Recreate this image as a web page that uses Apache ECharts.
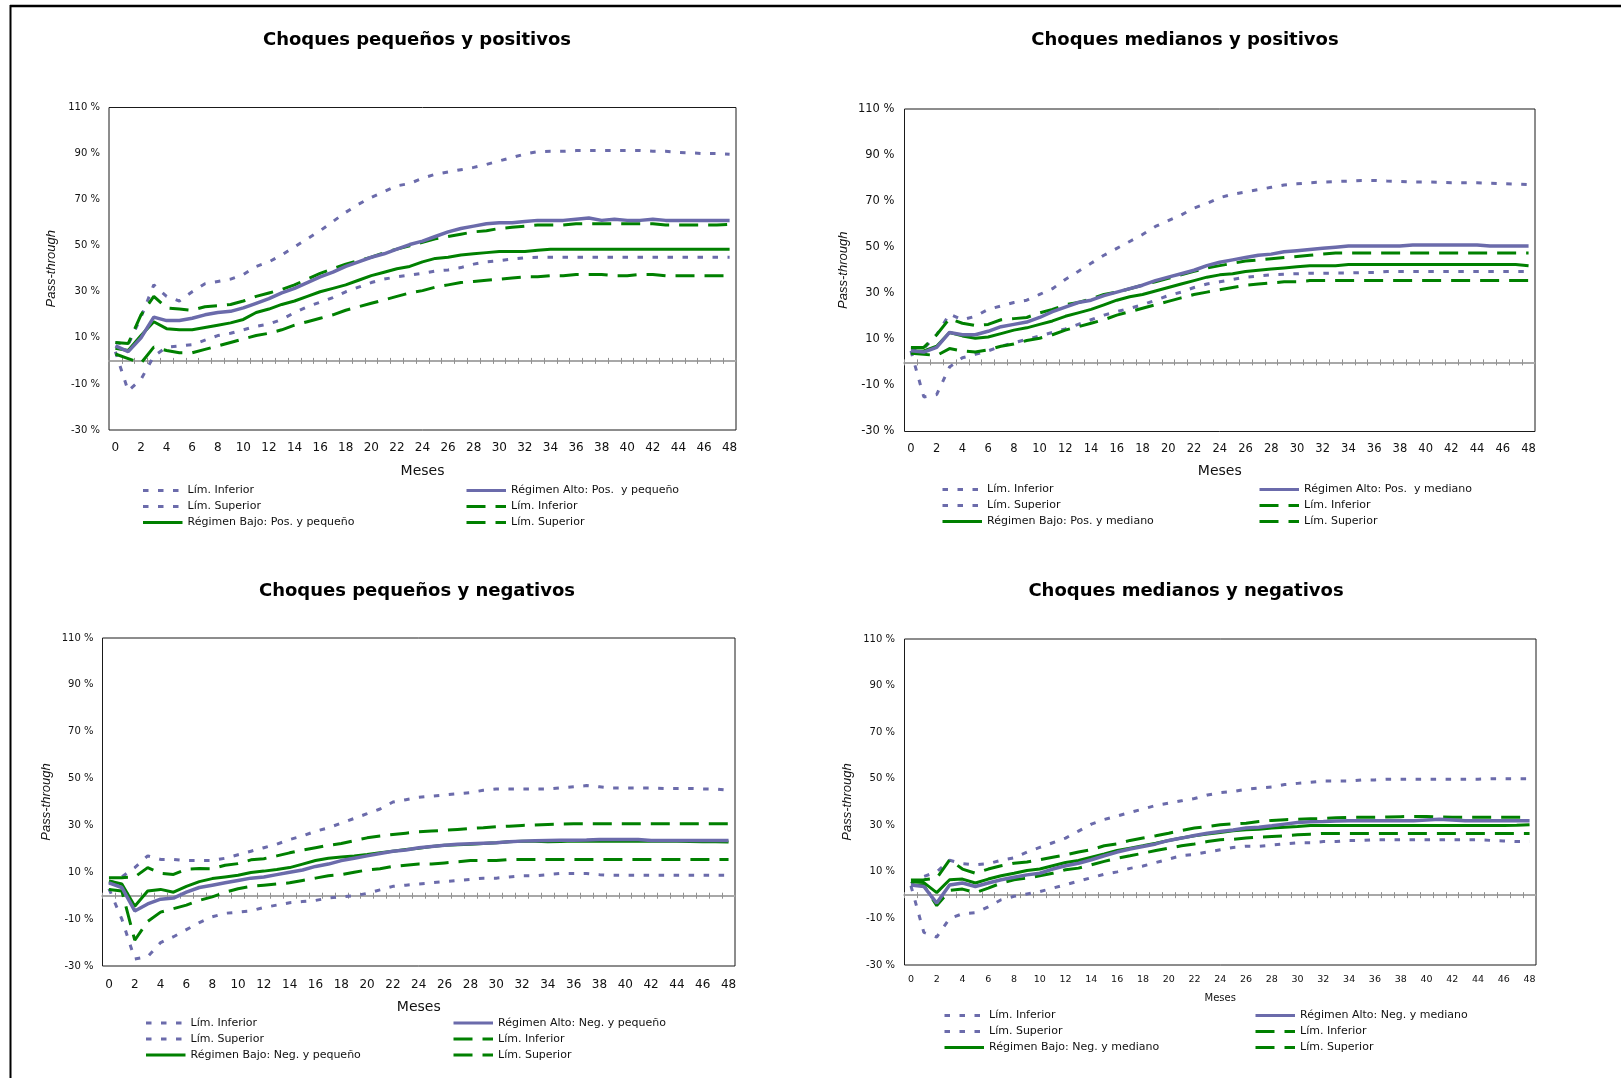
<!DOCTYPE html>
<html>
<head>
<meta charset="utf-8">
<script src="https://cdn.jsdelivr.net/npm/echarts@6/dist/echarts.min.js"></script>
<style>
  html, body { margin: 0; padding: 0; background: #fff; }
  #c { width: 1621px; height: 1078px; }
</style>
</head>
<body>
<div id="c"></div>
<script>
// Horizonte en meses (categorías del eje X)
const meses = ['0','1','2','3','4','5','6','7','8','9','10','11','12','13','14','15','16',
  '17','18','19','20','21','22','23','24','25','26','27','28','29','30','31','32','33',
  '34','35','36','37','38','39','40','41','42','43','44','45','46','47','48'];
// Marcas del eje Y (en %)
const ejeY = [-30, -10, 10, 30, 50, 70, 90, 110];

// ---- Choques pequeños y positivos ----
const altoPP = [6.5, 4, 10, 19, 17.5, 17.5, 18.5, 20, 21, 21.5,
  23, 25, 27, 29.5, 31.5, 34, 36.5, 38.5, 41, 43,
  45, 46.5, 48.5, 50.5, 52, 54, 56, 57.5, 58.5, 59.5,
  60, 60, 60.5, 61, 61, 61, 61.5, 62, 61, 61.5,
  61, 61, 61.5, 61, 61, 61, 61, 61, 61];
const altoPPinf = [4, -13, -8, 2, 6, 6.5, 7, 9, 11, 12,
  13.5, 15, 16, 18, 21, 23.5, 25.5, 27.5, 30, 32,
  34, 35.5, 36.5, 37.2, 38, 39, 39.5, 40.5, 42, 43,
  43.5, 44.2, 44.8, 45, 45, 45, 45, 45, 45, 45,
  45, 45, 45, 45, 45, 45, 45, 45, 45];
const altoPPsup = [8, 7, 19, 33, 28, 26, 30, 33.5, 34.5, 35.5,
  37.5, 41, 43, 46, 49.5, 53, 56.5, 60.5, 64.5, 68,
  71, 73.5, 76, 77, 79.3, 81, 82, 83, 84, 85.3,
  86.8, 88.3, 89.8, 90.8, 91, 91, 91.3, 91.3, 91.3, 91.3,
  91.3, 91.3, 91, 91, 90.5, 90.3, 90, 90, 89.7];
const bajoPP = [5.5, 4.5, 11, 17, 14, 13.5, 13.5, 14.5, 15.5, 16.5,
  18, 21, 22.5, 24.5, 26, 28, 30, 31.5, 33, 35,
  37, 38.5, 40, 41, 43, 44.5, 45, 46, 46.5, 47,
  47.5, 47.5, 47.5, 48, 48.5, 48.5, 48.5, 48.5, 48.5, 48.5,
  48.5, 48.5, 48.5, 48.5, 48.5, 48.5, 48.5, 48.5, 48.5];
const bajoPPinf = [3, 1, -1, 6, 4.5, 3.5, 3.5, 5, 6.5, 8,
  9.5, 11, 12, 13.5, 15.5, 17, 18.5, 20, 22, 23.5,
  25, 26.5, 28, 29.5, 30.5, 32, 33, 34, 34.5, 35,
  35.5, 36, 36.5, 36.5, 37, 37, 37.5, 37.5, 37.5, 37,
  37, 37.5, 37.5, 37, 37, 37, 37, 37, 37];
const bajoPPsup = [8, 7.5, 20, 28, 23, 22.5, 22, 23.5, 24, 24.5,
  26, 28, 29.5, 31, 33, 35.5, 38, 40, 42, 43.5,
  45, 47, 48.5, 50, 51.5, 53, 54, 55, 56, 56.5,
  57.5, 58, 58.5, 59, 59, 59, 59.5, 59.5, 59.5, 59.5,
  59.5, 59.5, 59.5, 59, 59, 59, 59, 59, 59.3];

// ---- Choques medianos y positivos ----
const altoPM = [5, 4.5, 6.5, 13, 12, 12, 13.5, 15.5, 16.5, 17.5,
  19.5, 22, 24, 26, 27, 29, 30.5, 32, 33.5, 35.5,
  37, 38.5, 40, 42, 43.5, 44.5, 45.5, 46.5, 47, 48,
  48.5, 49, 49.5, 50, 50.5, 50.5, 50.5, 50.5, 50.5, 51,
  51, 51, 51, 51, 51, 50.5, 50.5, 50.5, 50.5];
const altoPMinf = [5, -15, -14, -2, 2, 3.5, 5, 7, 8.5, 10,
  11.5, 13, 14.5, 16.5, 18.5, 20.5, 22, 23.5, 25, 27,
  29, 30.5, 32.5, 34, 35, 36, 37, 37.5, 38, 38.3,
  38.5, 38.7, 38.7, 38.8, 38.8, 39, 39, 39.5, 39.5, 39.5,
  39.5, 39.5, 39.5, 39.5, 39.5, 39.5, 39.5, 39.5, 39.5];
const altoPMsup = [6, 6, 12, 21, 18.5, 20, 23, 24.5, 26, 27,
  29.5, 32, 36, 39.5, 43, 46.5, 49.5, 52.5, 55.5, 59,
  61.5, 64, 67, 69, 71.5, 73, 74, 75, 76, 77,
  77.5, 78, 78.3, 78.5, 78.7, 79, 79, 78.7, 78.5, 78.3,
  78.3, 78.2, 78, 78, 78, 77.8, 77.6, 77.4, 77.2];
const bajoPM = [5, 5, 7, 13, 11.5, 10.5, 11, 12.5, 14, 15,
  16.5, 18, 20, 21.5, 23, 25, 27, 28.5, 29.5, 31,
  32.5, 34, 35.5, 37, 38, 38.5, 39.5, 40, 40.5, 41,
  41.5, 42, 42, 42, 42.5, 42.5, 42.5, 42.5, 42.5, 42.5,
  42.5, 42.5, 42.5, 42.5, 42.5, 42.5, 42.5, 42.5, 42];
const bajoPMinf = [4, 3.5, 3, 6, 5, 4.5, 5.5, 7, 8, 9.5,
  10.5, 12, 14, 15.5, 17, 18.5, 20.5, 22, 23.5, 25,
  26.5, 28, 29.5, 30.5, 31.5, 32.5, 33.5, 34, 34.5, 35,
  35, 35.5, 35.5, 35.5, 35.5, 35.5, 35.5, 35.5, 35.5, 35.5,
  35.5, 35.5, 35.5, 35.5, 35.5, 35.5, 35.5, 35.5, 35.5];
const bajoPMsup = [6.5, 6.5, 12, 19, 17, 16, 16.5, 18.5, 19, 19.5,
  21.5, 23, 25, 26, 27.5, 29.5, 30.5, 32, 33.5, 35,
  36.5, 38, 39.5, 41, 42, 43, 44, 44.5, 45, 45.5,
  46, 46.5, 47, 47.5, 47.5, 47.5, 47.5, 47.5, 47.5, 47.5,
  47.5, 47.5, 47.5, 47.5, 47.5, 47.5, 47.5, 47.5, 47.5];

// ---- Choques pequeños y negativos ----
const altoNP = [5.5, 3.5, -6.5, -3.5, -1.5, -1, 1.5, 3.5, 4.5, 5.5,
  6.5, 7.5, 8, 9, 10, 11, 12.5, 13.5, 15, 16,
  17, 18, 19, 19.5, 20.5, 21, 21.5, 22, 22.2, 22.4,
  22.6, 23, 23.3, 23.5, 23.6, 23.7, 23.7, 23.8, 24, 24,
  24, 24, 23.6, 23.6, 23.6, 23.6, 23.6, 23.6, 23.6];
const altoNPinf = [3, -10, -27, -26, -20, -17.5, -14.5, -11.5, -9, -7.5,
  -7, -6.5, -5, -4, -3, -2.5, -2, -1, -0.5, 0,
  1, 2.5, 4, 4.5, 5, 5.5, 6, 6.5, 7, 7.5,
  7.5, 8, 8.5, 8.5, 9, 9.5, 9.5, 9.5, 9, 8.7,
  8.7, 8.7, 8.7, 8.7, 8.7, 8.7, 8.7, 8.7, 8.7];
const altoNPsup = [5, 8, 12, 17, 15.5, 15.5, 15, 15, 15, 16,
  17.5, 19, 20.5, 22, 24, 25.5, 27.5, 29, 31, 33,
  35, 37, 40, 41, 42, 42.5, 43, 43.5, 44, 45,
  45.5, 45.5, 45.5, 45.5, 45.5, 46, 46.5, 47, 46.5, 46,
  46, 46, 46, 45.8, 45.8, 45.8, 45.6, 45.5, 45];
const bajoNP = [6.3, 5, -4.5, 2, 2.7, 1.5, 4, 6, 7.3, 8,
  8.7, 9.9, 10.5, 11.2, 12, 13.5, 15, 16, 16.5, 17,
  17.6, 18.3, 19, 19.7, 20.3, 21, 21.5, 21.7, 22, 22.3,
  22.6, 23, 23.3, 23.2, 23, 23.1, 23.3, 23.3, 23.3, 23.3,
  23.3, 23.3, 23.3, 23.3, 23.2, 23.1, 23, 23, 22.9];
const bajoNPinf = [2.7, 2, -19, -11, -7, -5.5, -4, -2, -0.5, 1.5,
  3, 4, 4.5, 5, 5.5, 6.5, 7.5, 8.5, 9, 10,
  11, 11.5, 12.5, 13, 13.5, 13.5, 14, 14.5, 15, 15,
  15, 15.5, 15.5, 15.5, 15.5, 15.5, 15.5, 15.5, 15.5, 15.5,
  15.5, 15.5, 15.5, 15.5, 15.5, 15.5, 15.5, 15.5, 15.5];
const bajoNPsup = [7.7, 7.7, 8, 12, 9.6, 9.1, 11.3, 11.6, 11.5, 13,
  13.7, 15.3, 15.8, 17, 18.3, 19.5, 20.5, 21.5, 22.3, 23.5,
  24.7, 25.5, 26.1, 26.7, 27.3, 27.6, 27.9, 28.3, 28.7, 29,
  29.4, 29.7, 30, 30.2, 30.4, 30.6, 30.7, 30.7, 30.7, 30.7,
  30.7, 30.7, 30.7, 30.7, 30.7, 30.7, 30.7, 30.7, 30.7];

// ---- Choques medianos y negativos ----
const altoNM = [4.4, 3.7, -3.4, 4.4, 5.2, 3.7, 5.2, 6.6, 7.7, 8.7,
  9.4, 11.2, 12.6, 13.7, 15.2, 16.9, 18.5, 19.8, 20.9, 22,
  23.5, 24.5, 25.6, 26.6, 27.3, 28, 28.8, 29.2, 29.8, 30.5,
  31.2, 31.5, 31.6, 31.8, 32, 32, 32, 32, 32, 32,
  32.3, 32.6, 32.3, 32, 32, 32, 32, 32, 32];
const altoNMinf = [4, -16, -18, -10, -8, -7.5, -5, -2, -0.5, 0.5,
  1.5, 3, 4.5, 6, 7.5, 9, 10, 11.5, 12.5, 14,
  15.5, 17, 17.5, 18.5, 19.5, 20.5, 21, 21, 21.5, 22,
  22.5, 22.5, 23, 23, 23.5, 23.5, 23.8, 23.8, 23.8, 23.8,
  23.8, 23.8, 23.8, 23.8, 23.8, 23.5, 23.3, 23, 23];
const altoNMsup = [5, 8, 10, 15, 13.5, 13, 13.5, 15, 16, 18.5,
  20.5, 22.5, 24.5, 27.5, 30.5, 32.5, 34, 35.5, 37, 38.5,
  39.5, 40.5, 41.5, 43, 44, 44.5, 45.5, 46, 46.5, 47.5,
  48, 48.5, 49, 49, 49, 49.5, 49.5, 49.8, 49.8, 49.8,
  49.8, 49.8, 49.8, 49.8, 49.8, 50, 50, 50, 50];
const bajoNM = [5.9, 5.4, 1.1, 6.6, 6.9, 5.2, 6.9, 8.3, 9.4, 10.6,
  11.2, 12.6, 14, 14.9, 16.3, 17.7, 19.2, 20.2, 21.2, 22.3,
  23.5, 24.5, 25.5, 26.2, 26.9, 27.6, 28.1, 28.3, 28.8, 29.2,
  29.5, 29.9, 29.9, 29.9, 29.9, 29.9, 29.9, 29.9, 29.9, 29.9,
  29.9, 29.9, 29.9, 29.9, 29.9, 29.9, 29.9, 30, 30.2];
const bajoNMinf = [4.4, 4.2, -4.5, 2, 2.6, 1.1, 3, 5.2, 6.6, 7.3,
  8.3, 9.4, 10.9, 11.6, 13, 14.5, 15.9, 16.9, 18, 19.2,
  20.2, 21.2, 22, 23, 23.8, 24, 24.5, 24.9, 25.2, 25.5,
  25.9, 26.2, 26.5, 26.5, 26.5, 26.5, 26.5, 26.5, 26.5, 26.5,
  26.5, 26.5, 26.5, 26.5, 26.5, 26.5, 26.5, 26.5, 26.5];
const bajoNMsup = [6.5, 6.6, 7.3, 15.2, 11.2, 9.4, 11.2, 12.6, 13.7, 14.2,
  15.2, 16.3, 17.3, 18.5, 19.5, 21.2, 22, 23.5, 24.5, 25.5,
  26.6, 27.8, 28.8, 29.5, 30.2, 30.6, 30.9, 31.6, 32.1, 32.4,
  32.6, 32.8, 32.9, 33.2, 33.4, 33.4, 33.5, 33.6, 33.7, 33.8,
  33.8, 33.6, 33.5, 33.5, 33.5, 33.5, 33.5, 33.5, 33.5];

// Nombres de las series en la leyenda
const limInfAlto = 'Lím. Inferior';
const limSupAlto = 'Lím. Superior';
const limInfBajo = 'Lím. Inferior ';
const limSupBajo = 'Lím. Superior ';

// Estilos de línea
const MORADO = '#6b6bab';
const VERDE = '#008000';
const estiloBanda = { color: MORADO, width: 3, type: [5.5, 9.5], cap: 'butt' };
const estiloBandaBajo = { color: VERDE, width: 3, type: [19, 10], cap: 'butt' };
const estiloAlto = { color: MORADO, width: 3.5, type: 'solid' };
const estiloBajo = { color: VERDE, width: 3, type: 'solid' };

const FUENTE = 'DejaVu Sans';

// Configuración de los cuatro paneles
const paneles = [
  { titulo: 'Choques pequeños y positivos', cx: 417, ty: 31,
    grid: { left: 109, top: 107.5, width: 627, height: 322.5 },
    yFont: 10, yMargin: 9, xFont: 12, xMargin: 12, mesesFont: 14, mesesGap: 34, nameGap: 51,
    leyenda: { top: 485, izq: 141.5, der: 465 },
    bajo: 'Régimen Bajo: Pos. y pequeño', alto: 'Régimen Alto: Pos.  y pequeño',
    series: [altoPPsup, altoPPinf, bajoPPinf, bajoPPsup, bajoPP, altoPP] },
  { titulo: 'Choques medianos y positivos', cx: 1185, ty: 31,
    grid: { left: 904.5, top: 109, width: 630.5, height: 322.5 },
    yFont: 11.5, yMargin: 10, xFont: 11.5, xMargin: 11.5, mesesFont: 14, mesesGap: 33, nameGap: 55,
    leyenda: { top: 484, izq: 941, der: 1258 },
    bajo: 'Régimen Bajo: Pos. y mediano', alto: 'Régimen Alto: Pos.  y mediano',
    series: [altoPMsup, altoPMinf, bajoPMinf, bajoPMsup, bajoPM, altoPM] },
  { titulo: 'Choques pequeños y negativos', cx: 417, ty: 582,
    grid: { left: 102.5, top: 638, width: 632.5, height: 328 },
    yFont: 10, yMargin: 9, xFont: 12, xMargin: 12.5, mesesFont: 14, mesesGap: 34.5, nameGap: 50,
    leyenda: { top: 1017.5, izq: 144.5, der: 452 },
    bajo: 'Régimen Bajo: Neg. y pequeño', alto: 'Régimen Alto: Neg. y pequeño',
    series: [altoNPsup, altoNPinf, bajoNPinf, bajoNPsup, bajoNP, altoNP] },
  { titulo: 'Choques medianos y negativos', cx: 1186, ty: 582,
    grid: { left: 904.5, top: 639, width: 631.5, height: 326 },
    yFont: 10, yMargin: 9.5, xFont: 9.5, xMargin: 9.5, mesesFont: 10, mesesGap: 28, nameGap: 51,
    leyenda: { top: 1010, izq: 943, der: 1254 },
    bajo: 'Régimen Bajo: Neg. y mediano', alto: 'Régimen Alto: Neg. y mediano',
    series: [altoNMsup, altoNMinf, bajoNMinf, bajoNMsup, bajoNM, altoNM] }
];

const option = {
  animation: false,
  backgroundColor: '#ffffff',
  title: [], grid: [], xAxis: [], yAxis: [], legend: [], series: [],
  graphic: [
    { type: 'line', shape: { x1: 10, y1: 6, x2: 1621, y2: 6 }, style: { stroke: '#000', lineWidth: 2.5 } },
    { type: 'line', shape: { x1: 10.5, y1: 5, x2: 10.5, y2: 1078 }, style: { stroke: '#000', lineWidth: 2 } }
  ]
};

paneles.forEach((p, g) => {
  option.title.push({
    text: p.titulo, left: p.cx, top: p.ty, textAlign: 'center', padding: 0,
    textStyle: { fontFamily: FUENTE, fontWeight: 'bold', fontSize: 18, color: '#000' }
  });
  option.grid.push(Object.assign({ show: true, borderColor: '#1a1a1a', borderWidth: 1,
    backgroundColor: '#fff', containLabel: false }, p.grid));

  // Eje de etiquetas (abajo)
  option.xAxis.push({
    type: 'category', gridIndex: g, data: meses, position: 'bottom', boundaryGap: true,
    axisLine: { show: false, onZero: false }, axisTick: { show: false }, splitLine: { show: false },
    axisLabel: { interval: 1, fontFamily: FUENTE, fontSize: p.xFont, color: '#111', margin: p.xMargin },
    name: 'Meses', nameLocation: 'middle', nameGap: p.mesesGap,
    nameTextStyle: { fontFamily: FUENTE, fontSize: p.mesesFont, color: '#111' }
  });
  // Línea del cero con marcas cruzadas
  ['bottom', 'top'].forEach(pos => {
    option.xAxis.push({
      type: 'category', gridIndex: g, data: meses, position: pos, boundaryGap: true,
      axisLine: { show: true, onZero: true, onZeroAxisIndex: g, lineStyle: { color: '#a8a8a8', width: 2 } },
      axisTick: { show: true, interval: 0, length: 3, lineStyle: { color: '#909090', width: 1 } },
      axisLabel: { show: false }, splitLine: { show: false }
    });
  });

  option.yAxis.push({
    type: 'value', gridIndex: g, min: -30, max: 110, interval: 20, position: 'left',
    axisLine: { show: false }, axisTick: { show: false }, splitLine: { show: false },
    axisLabel: { formatter: v => v + ' %', fontFamily: FUENTE, fontSize: p.yFont, color: '#111', margin: p.yMargin },
    name: 'Pass-through', nameLocation: 'middle', nameGap: p.nameGap,
    nameTextStyle: { fontFamily: 'Liberation Sans', fontStyle: 'italic', fontSize: 13, color: '#111' }
  });

  const nombres = [limSupAlto, limInfAlto, limInfBajo, limSupBajo, p.bajo, p.alto];
  const estilos = [estiloBanda, estiloBanda, estiloBandaBajo, estiloBandaBajo, estiloBajo, estiloAlto];
  p.series.forEach((d, k) => {
    option.series.push({
      type: 'line', name: nombres[k], data: d, xAxisIndex: 3 * g, yAxisIndex: g,
      symbol: 'none', lineStyle: estilos[k], itemStyle: { color: estilos[k].color },
      z: 2 + k
    });
  });

  const legendaBase = {
    orient: 'vertical', itemWidth: 39.5, itemHeight: 12, itemGap: 5, padding: 0,
    selectedMode: false, formatter: n => n.trim(),
    lineStyle: { width: 3 }, itemStyle: { opacity: 0 },
    textStyle: { fontFamily: FUENTE, fontSize: 11, color: '#111' }
  };
  option.legend.push(Object.assign({}, legendaBase, {
    left: p.leyenda.izq, top: p.leyenda.top, data: [limInfAlto, limSupAlto, p.bajo] }));
  option.legend.push(Object.assign({}, legendaBase, {
    left: p.leyenda.der, top: p.leyenda.top, data: [p.alto, limInfBajo, limSupBajo] }));
});

const chart = echarts.init(document.getElementById('c'), null, { renderer: 'canvas' });
chart.setOption(option);
</script>
</body>
</html>
